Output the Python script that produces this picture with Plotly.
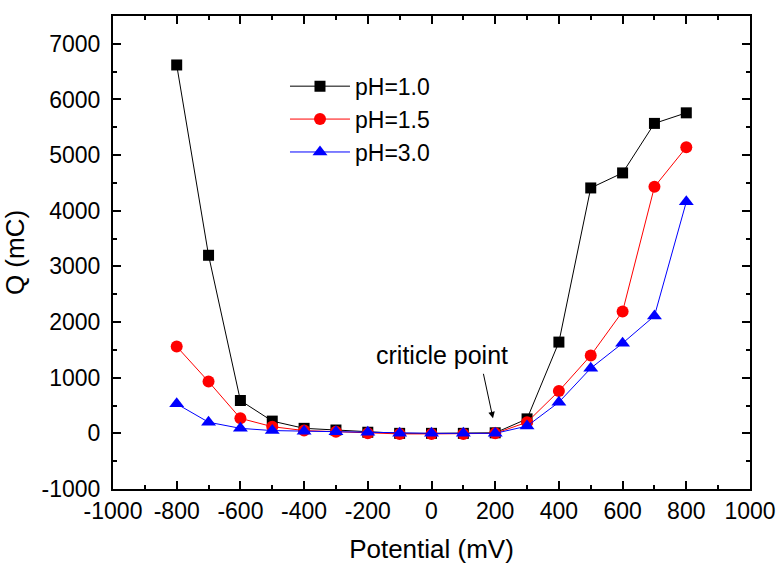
import plotly.graph_objects as go

potential = [-800, -700, -600, -500, -400, -300, -200, -100, 0, 100, 200, 300, 400, 500, 600, 700, 800]
q_ph10 = [6620, 3200, 590, 220, 90, 60, 20, 0, 0, 0, 10, 260, 1640, 4410, 4680, 5570, 5760]
q_ph15 = [1560, 930, 270, 120, 50, 30, 0, -10, -10, -10, 0, 200, 760, 1400, 2190, 4430, 5140]
q_ph30 = [530, 200, 90, 50, 40, 30, 20, 0, 0, 0, 0, 130, 560, 1170, 1620, 2110, 4160]

x_tickvals = [-1000, -800, -600, -400, -200, 0, 200, 400, 600, 800, 1000]
x_ticktext = ["-1000", "-800", "-600", "-400", "-200", "0", "200", "400", "600", "800", "1000"]
y_tickvals = [-1000, 0, 1000, 2000, 3000, 4000, 5000, 6000, 7000]
y_ticktext = ["-1000", "0", "1000", "2000", "3000", "4000", "5000", "6000", "7000"]

names = ["pH=1.0", "pH=1.5", "pH=3.0"]
colors = ["black", "red", "blue"]
symbols = ["square", "circle", "triangle-up"]
sizes = [11, 12, 13]

fig = go.Figure()
for name, ys, c, s, sz in zip(names, [q_ph10, q_ph15, q_ph30], colors, symbols, sizes):
    fig.add_trace(go.Scatter(x=potential, y=ys, name=name, mode="lines+markers",
                             line=dict(color=c, width=1),
                             marker=dict(symbol=s, size=sz, color=c)))

fig.add_annotation(x=193, y=270, ax=162, ay=1097, xref="x", yref="y", axref="x", ayref="y",
                   showarrow=True, arrowhead=2, arrowsize=1.3, arrowwidth=1, arrowcolor="black",
                   text="")
fig.add_annotation(x=33, y=1403, xref="x", yref="y", text="criticle point", showarrow=False,
                   font=dict(size=25, color="black"))

axis_common = dict(showline=True, linecolor="black", linewidth=2, mirror="allticks",
                   ticks="inside", ticklen=8, tickwidth=1.5, tickcolor="black",
                   showgrid=False, zeroline=False, automargin=False,
                   tickfont=dict(size=23, color="black"))

fig.update_xaxes(range=[-1000, 1000], tickmode="array", tickvals=x_tickvals, ticktext=x_ticktext,
                 minor=dict(ticks="inside", ticklen=4, dtick=100, tick0=0, tickcolor="black", tickwidth=1.5),
                 ticklabelstandoff=0,
                 title=dict(text="Potential (mV)", font=dict(size=26, color="black"), standoff=19),
                 **axis_common)
fig.update_yaxes(range=[-1000, 7500], tickmode="array", tickvals=y_tickvals, ticktext=y_ticktext,
                 minor=dict(ticks="inside", ticklen=4, dtick=500, tick0=0, tickcolor="black", tickwidth=1.5),
                 ticklabelstandoff=6,
                 title=dict(text="Q (mC)", font=dict(size=26, color="black"), standoff=12),
                 **axis_common)

fig.update_layout(width=779, height=564, plot_bgcolor="white", paper_bgcolor="white",
                  margin=dict(l=113, r=29, t=16, b=75),
                  font=dict(family="Liberation Sans, Arial, sans-serif", color="black"),
                  legend=dict(x=0.27, y=0.897, xanchor="left", yanchor="top",
                              bgcolor="rgba(0,0,0,0)", font=dict(size=23), itemwidth=60,
                              tracegroupgap=0))

fig.write_html("out.html")
